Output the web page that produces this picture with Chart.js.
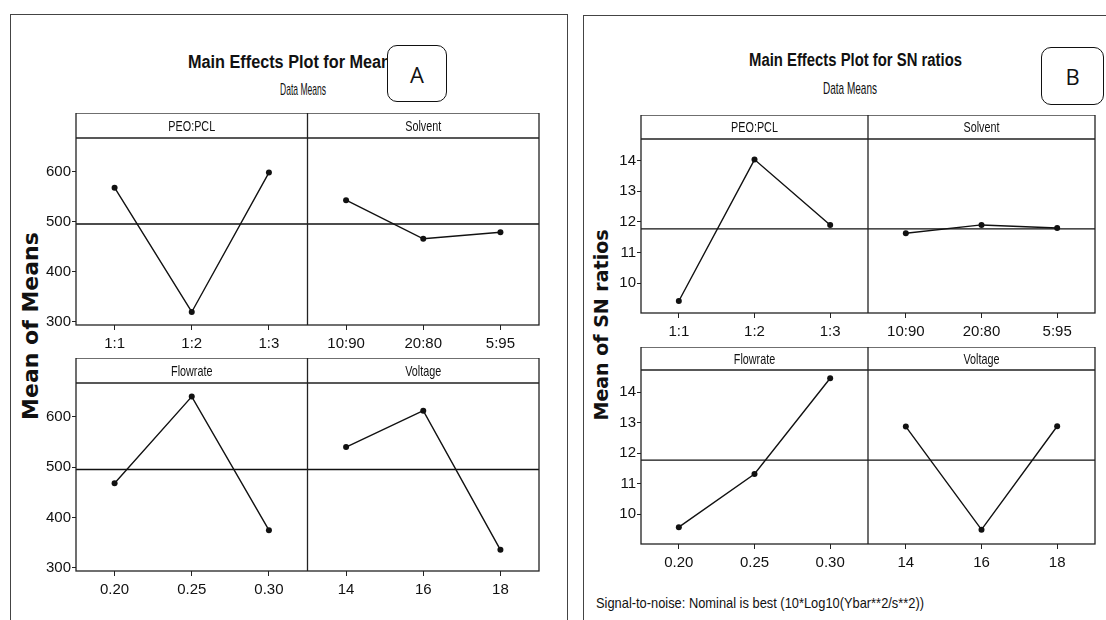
<!DOCTYPE html>
<html>
<head>
<meta charset="utf-8">
<script src="https://cdn.jsdelivr.net/npm/chart.js@4.4.1/dist/chart.umd.min.js"></script>
<style>
  body { margin:0; background:#fff; width:1106px; height:620px; overflow:hidden; position:relative;
         font-family:"Liberation Sans",Arial,sans-serif; color:#111; }
  .frame { position:absolute; border:1px solid #444; border-bottom:none; }
  .txt { position:absolute; white-space:nowrap; transform-origin:0 50%; line-height:1; }
  .ttl { font-weight:bold; font-size:18px; }
  .sub { font-size:17px; }
  .tag { position:absolute; border:1.5px solid #111; border-radius:10px; background:#fff;
         font-family:"Open Sans","Liberation Sans",sans-serif; font-size:22px; display:flex; align-items:center; justify-content:center; }
  .ylab { position:absolute; font-family:"DejaVu Sans",sans-serif; font-weight:bold; white-space:nowrap;
          transform:translate(-50%,-50%) rotate(-90deg); }
  .foot { font-size:15px; }
  canvas { position:absolute; }
</style>
</head>
<body>
<div class="frame" style="left:10px;top:14px;width:556px;height:620px"></div>
<div class="frame" style="left:583px;top:15px;width:540px;height:620px"></div>

<div id="ttlA" class="txt ttl" style="left:188px;top:53px">Main Effects Plot for Means</div>
<div id="subA" class="txt sub" style="left:280px;top:81px">Data Means</div>
<div class="tag" style="left:387px;top:45px;width:58px;height:55px">A</div>

<div id="ttlB" class="txt ttl" style="left:749px;top:51px">Main Effects Plot for SN ratios</div>
<div id="subB" class="txt sub" style="left:823px;top:80px">Data Means</div>
<div class="tag" style="left:1041px;top:47px;width:61px;height:56px">B</div>

<div class="ylab" style="left:30px;top:326px;font-size:22px">Mean of Means</div>
<div class="ylab" style="left:601px;top:325px;font-size:19px">Mean of SN ratios</div>

<div id="foot" class="txt foot" style="left:596px;top:595px">Signal-to-noise: Nominal is best (10*Log10(Ybar**2/s**2))</div>

<canvas id="aTop" width="507" height="242" style="left:36px;top:113px"></canvas>
<canvas id="aBot" width="507" height="243" style="left:36px;top:358px"></canvas>
<canvas id="bTop" width="498" height="228" style="left:601px;top:115px"></canvas>
<canvas id="bBot" width="498" height="227" style="left:601px;top:347px"></canvas>

<script>
// niveis de cada fator
const levelsPeoPcl = ['1:1', '1:2', '1:3'];
const levelsSolvent = ['10:90', '20:80', '5:95'];
const levelsFlowrate = ['0.20', '0.25', '0.30'];
const levelsVoltage = ['14', '16', '18'];

// medias (grafico A)
const meansPeoPcl = [568, 320, 598];
const meansSolvent = [543, 466, 479];
const meansFlowrate = [468, 640, 375];
const meansVoltage = [540, 612, 336];

// razoes SN (grafico B)
const snPeoPcl = [9.42, 14.03, 11.9];
const snSolvent = [11.63, 11.9, 11.8];
const snFlowrate = [9.58, 11.32, 14.45];
const snVoltage = [12.87, 9.5, 12.88];

// ticks do eixo y
const meanTicks = [300, 400, 500, 600];
const snTicks = [10, 11, 12, 13, 14];

const FONT = '"Liberation Sans",Arial,sans-serif';

// texto comprimido (a fonte original e bem estreita)
function squeeze(id, w){
    const el = document.getElementById(id);
    const r = el.getBoundingClientRect().width;
    el.style.transform = 'scaleX(' + (w / r) + ')';
}
squeeze('ttlA', 212);
squeeze('ttlB', 213);
squeeze('subA', 46);
squeeze('subB', 54);
squeeze('foot', 328);

function avg(arrs){
    let s = 0, n = 0;
    arrs.forEach(a => a.forEach(v => { s += v; n++; }));
    return s / n;
}
const grandMeans = avg([meansPeoPcl, meansSolvent, meansFlowrate, meansVoltage]);
const grandSN = avg([snPeoPcl, snSolvent, snFlowrate, snVoltage]);

// caixa, divisoria e faixa com o nome do fator
const framePlugin = {
    id: 'frame',
    afterDraw(chart, args, opts){
        const ctx = chart.ctx, a = chart.chartArea, x = chart.scales.x;
        const mid = x.getPixelForValue(3);
        ctx.save();
        ctx.strokeStyle = '#222';
        ctx.lineWidth = 1.3;
        ctx.strokeRect(a.left, a.top - opts.strip, a.right - a.left, a.bottom - a.top + opts.strip);
        ctx.beginPath();
        ctx.moveTo(a.left, a.top); ctx.lineTo(a.right, a.top);
        ctx.moveTo(mid, a.top - opts.strip); ctx.lineTo(mid, a.bottom);
        ctx.stroke();
        ctx.fillStyle = '#111';
        ctx.font = '15px ' + FONT;
        ctx.textAlign = 'center';
        ctx.textBaseline = 'middle';
        [1.5, 4.5].forEach((v, i) => {
            ctx.save();
            ctx.translate(x.getPixelForValue(v), a.top - opts.strip / 2 + 1);
            ctx.scale(0.72, 1);
            ctx.fillText(opts.labels[i], 0, 0);
            ctx.restore();
        });
        ctx.restore();
    }
};

function makeRow(id, strip, names, lvL, valL, lvR, valR, yMin, yMax, yTicks, grand){
    const labels = lvL.concat(lvR);
    const ptsL = valL.map((v, i) => ({x: i + 0.5, y: v}));
    const ptsR = valR.map((v, i) => ({x: i + 3.5, y: v}));
    const line = {borderColor:'#111', backgroundColor:'#111', borderWidth:1.4, pointRadius:3, pointBorderWidth:0};
    new Chart(document.getElementById(id), {
        type: 'line',
        data: { datasets: [
            Object.assign({ data: ptsL }, line),
            Object.assign({ data: ptsR }, line),
            { data: [{x:0, y:grand}, {x:6, y:grand}], borderColor:'#111', borderWidth:1.3, pointRadius:0 }
        ]},
        options: {
            responsive: false,
            animation: false,
            layout: { padding: { top: strip, right: 2, left: 0, bottom: 0 } },
            plugins: { legend: {display:false}, tooltip: {enabled:false},
                       frame: { strip: strip, labels: names } },
            scales: {
                x: {
                    type: 'linear', min: 0, max: 6,
                    afterBuildTicks: s => { s.ticks = labels.map((l, i) => ({value: i + 0.5})); },
                    afterFit: s => { s.height = 30; },
                    ticks: { callback: (v, i) => labels[i], color:'#111', padding: 5,
                             font: { family: FONT, size: 15 }, maxRotation: 0, autoSkip: false },
                    grid: { drawOnChartArea: false, tickLength: 5, color: '#222' },
                    border: { display: false }
                },
                y: {
                    min: yMin, max: yMax,
                    afterBuildTicks: s => { s.ticks = yTicks.map(v => ({value: v})); },
                    afterFit: s => { s.width = 40; },
                    ticks: { color:'#111', padding: 1, font: { family: FONT, size: 15 } },
                    grid: { drawOnChartArea: false, tickLength: 4, color: '#222' },
                    border: { display: false }
                }
            }
        },
        plugins: [framePlugin]
    });
}

makeRow('aTop', 25, ['PEO:PCL', 'Solvent'], levelsPeoPcl, meansPeoPcl, levelsSolvent, meansSolvent, 294, 667, meanTicks, grandMeans);
makeRow('aBot', 25, ['Flowrate', 'Voltage'], levelsFlowrate, meansFlowrate, levelsVoltage, meansVoltage, 294, 667, meanTicks, grandMeans);
makeRow('bTop', 24, ['PEO:PCL', 'Solvent'], levelsPeoPcl, snPeoPcl, levelsSolvent, snSolvent, 9.03, 14.7, snTicks, grandSN);
makeRow('bBot', 23, ['Flowrate', 'Voltage'], levelsFlowrate, snFlowrate, levelsVoltage, snVoltage, 9.03, 14.72, snTicks, grandSN);
</script>
</body>
</html>
